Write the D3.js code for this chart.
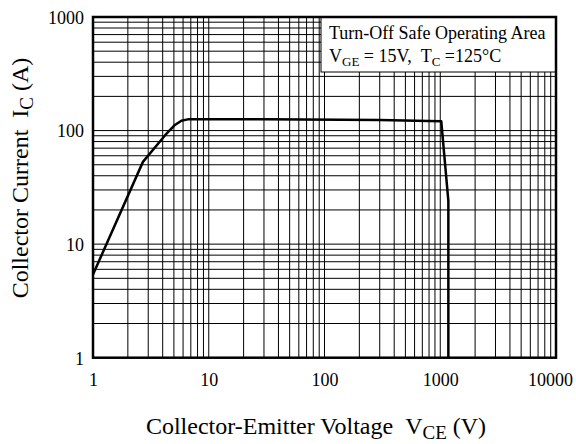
<!DOCTYPE html>
<html>
<head>
<meta charset="utf-8">
<script src="https://cdn.jsdelivr.net/npm/d3@7"></script>
<style>
  html, body { margin: 0; padding: 0; background: #fff; }
  svg { display: block; font-family: "Liberation Serif", "Times New Roman", serif; }
  text { white-space: pre; }
</style>
</head>
<body>
<svg id="chart" width="576" height="444"></svg>
<script>
// ---- data ----
const xTickValues = [1, 10, 100, 1000, 10000];
const xTickLabels = ["1", "10", "100", "1000", "10000"];
const yTickValues = [1, 10, 100, 1000];
const yTickLabels = ["1", "10", "100", "1000"];
// RBSOA boundary: collector-emitter voltage (V) and collector current (A)
const vce = [1, 2.7, 4.2, 5.1, 5.8, 6.6, 30, 300, 1020, 1175, 1175];
const ic  = [5.4, 53, 91, 112, 122, 125.5, 125.5, 124, 121, 24, 1];
const legendLine1 = "Turn-Off Safe Operating Area";

// ---- layout ----
const svg = d3.select("#chart");
const pLeft = 93, pRight = 556, pTop = 17, pBottom = 357.7;

const x = d3.scaleLog().domain([1, 10000]).range([pLeft, pRight]);
const y = d3.scaleLog().domain([1, 1000]).range([pBottom, pTop]);

// minor + major grid values
const xGrid = [];
for (let d = 1; d < 10000; d *= 10) for (let k = 1; k <= 9; k++) xGrid.push(d * k);
xGrid.push(10000);
const yGrid = [];
for (let d = 1; d < 1000; d *= 10) for (let k = 1; k <= 9; k++) yGrid.push(d * k);
yGrid.push(1000);

const g = svg.append("g");

g.selectAll("line.vx").data(xGrid).enter().append("line")
  .attr("x1", d => x(d)).attr("x2", d => x(d))
  .attr("y1", pTop).attr("y2", pBottom)
  .attr("stroke", "#000").attr("stroke-width", 1);

g.selectAll("line.hy").data(yGrid).enter().append("line")
  .attr("y1", d => y(d)).attr("y2", d => y(d))
  .attr("x1", pLeft).attr("x2", pRight)
  .attr("stroke", "#000").attr("stroke-width", 1);

// legend box (covers grid)
const boxX = 321, boxY = pTop, boxW = pRight - 321, boxH = 72 - pTop;
g.append("rect").attr("x", boxX).attr("y", boxY).attr("width", boxW).attr("height", boxH)
  .attr("fill", "#fff").attr("stroke", "#000").attr("stroke-width", 1);

g.append("text").attr("x", 329).attr("y", 39).attr("font-size", 18).attr("fill", "#000")
  .text(legendLine1);
const l2 = g.append("text").attr("x", 329).attr("y", 62).attr("font-size", 18).attr("fill", "#000");
l2.append("tspan").text("V");
l2.append("tspan").attr("font-size", 13).attr("dy", 4).text("GE");
l2.append("tspan").attr("dy", -4).text(" = 15V,\u00a0\u00a0T");
l2.append("tspan").attr("font-size", 13).attr("dy", 4).text("C");
l2.append("tspan").attr("dy", -4).text(" =125°C");

// curve
const pts = vce.map((v, i) => [v, ic[i]]);
const line = d3.line().x(d => x(d[0])).y(d => y(d[1]));
g.append("path").attr("d", line(pts)).attr("fill", "none")
  .attr("stroke", "#000").attr("stroke-width", 2.5).attr("stroke-linejoin", "round");

// frame
g.append("rect").attr("x", pLeft).attr("y", pTop).attr("width", pRight - pLeft).attr("height", pBottom - pTop)
  .attr("fill", "none").attr("stroke", "#000").attr("stroke-width", 2.5);

// axes (labels only)
const xAxis = d3.axisBottom(x).tickValues(xTickValues)
  .tickFormat((d, i) => xTickLabels[i]).tickSize(0).tickPadding(0);
const xa = svg.append("g").attr("transform", `translate(0,${pBottom})`).call(xAxis);
xa.select(".domain").remove();
xa.selectAll("text").attr("font-size", 18).attr("font-family", "Liberation Serif")
  .attr("fill", "#000").attr("dy", null).attr("y", 28)
  .attr("dx", (d, i) => i === xTickValues.length - 1 ? -6 : 0);

const yAxis = d3.axisLeft(y).tickValues(yTickValues)
  .tickFormat((d, i) => yTickLabels[i]).tickSize(0).tickPadding(0);
const ya = svg.append("g").attr("transform", `translate(${pLeft},0)`).call(yAxis);
ya.select(".domain").remove();
ya.selectAll("text").attr("font-size", 18).attr("font-family", "Liberation Serif")
  .attr("fill", "#000").attr("x", -9).attr("dy", "0.35em");

// axis titles
const xt = svg.append("text").attr("x", 316).attr("y", 434).attr("text-anchor", "middle")
  .attr("font-size", 24).attr("fill", "#000");
xt.append("tspan").text("Collector-Emitter Voltage\u00a0\u00a0V");
xt.append("tspan").attr("font-size", 19).attr("dy", 5).text("CE");
xt.append("tspan").attr("dy", -5).text(" (V)");

const yt = svg.append("text").attr("transform", "translate(28,178) rotate(-90)")
  .attr("text-anchor", "middle").attr("font-size", 24).attr("fill", "#000");
yt.append("tspan").text("Collector Current\u00a0\u00a0I");
yt.append("tspan").attr("font-size", 19).attr("dy", 5).text("C");
yt.append("tspan").attr("dy", -5).text(" (A)");
</script>
</body>
</html>
